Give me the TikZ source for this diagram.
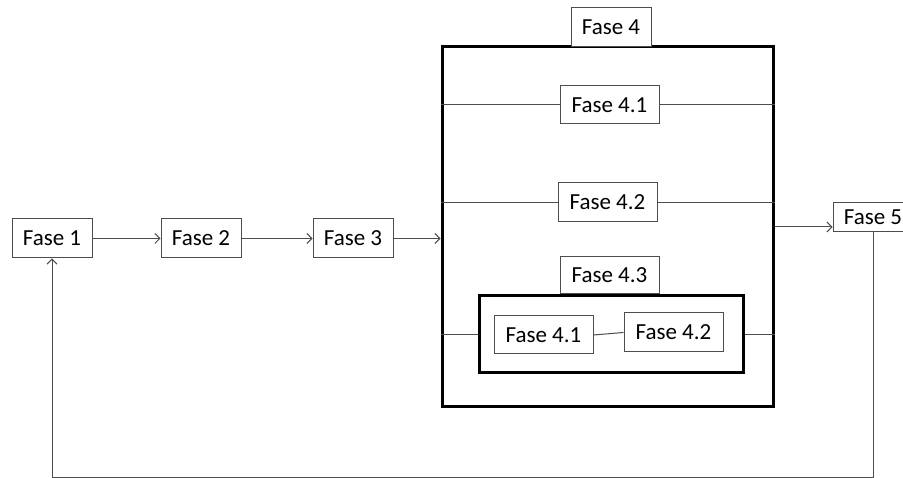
\documentclass[tikz,border=0pt]{standalone}
\usepackage{fontspec}
\setmainfont{Carlito}
\usetikzlibrary{arrows.meta}
\definecolor{ln}{HTML}{4D4D4D}
\tikzset{
  box/.style={draw=ln, line width=1pt, fill=white, inner sep=0pt, font=\fontsize{23}{27}\selectfont},
  thick box/.style={draw=black, line width=3pt, inner sep=0pt},
  conn/.style={draw=ln, line width=1pt},
  arr/.style={conn, -{Straight Barb[length=5pt,width=10pt]}}
}
\begin{document}
\begin{tikzpicture}[x=1pt,y=-1pt]
\useasboundingbox (0,0) rectangle (903,478);
\node[box, minimum width=80pt, minimum height=39pt] (f1) at (52,238.5) {Fase 1};
\node[box, minimum width=80pt, minimum height=39pt] (f2) at (201,238.5) {Fase 2};
\node[box, minimum width=80pt, minimum height=39pt] (f3) at (353,238.5) {Fase 3};
\node[thick box, minimum width=331pt, minimum height=360pt] (big) at (607.5,227) {};
\node[box, minimum width=80pt, minimum height=39pt] (f4) at (611,27.5) {Fase 4};
\node[box, minimum width=99pt, minimum height=38pt] (f41) at (609.5,105) {Fase 4.1};
\node[box, minimum width=99pt, minimum height=39pt] (f42) at (607.5,202.5) {Fase 4.2};
\node[box, minimum width=99pt, minimum height=37pt] (f43) at (609.5,275.5) {Fase 4.3};
\node[thick box, minimum width=264pt, minimum height=77pt] (inner) at (611,334.5) {};
\node[box, minimum width=99pt, minimum height=38pt] (g41) at (543.5,335) {Fase 4.1};
\node[box, minimum width=99pt, minimum height=39pt] (g42) at (673.5,332.5) {Fase 4.2};
\node[box, minimum width=80pt, minimum height=29pt] (f5) at (873,217.5) {Fase 5};
\coordinate (bot) at (0,477);

\draw[arr] (f1.east) -- (f2.west);
\draw[arr] (f2.east) -- (f3.west);
\draw[arr] (f3.east) -- (f3.east -| big.west);
\draw[conn] (f41.west -| big.west) -- (f41.west);
\draw[conn] (f41.east) -- (f41.east -| big.east);
\draw[conn] (f42.west -| big.west) -- (f42.west);
\draw[conn] (f42.east) -- (f42.east -| big.east);
\draw[conn] (inner.west -| big.west) -- (inner.west);
\draw[conn] (inner.east) -- (inner.east -| big.east);
\draw[conn] (g41.east) -- (g42.west);
\draw[arr] (big.east) -- (big.east -| f5.west);
\draw[arr] (f5.south) -- (f5.south |- bot) -- (f1.south |- bot) -- (f1.south);
\end{tikzpicture}
\end{document}
